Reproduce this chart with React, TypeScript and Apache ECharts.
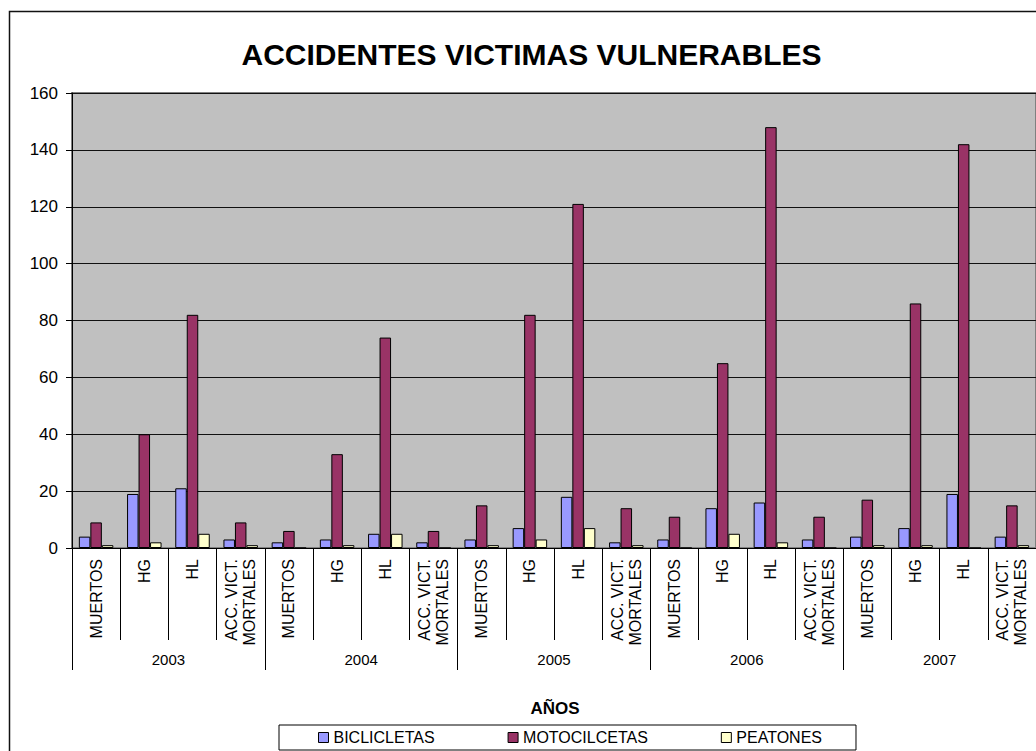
import React, { useEffect, useRef } from "react";
import * as echarts from "echarts";

const years = ["2003", "2004", "2005", "2006", "2007"];
const subCategories = ["MUERTOS", "HG", "HL", "ACC. VICT.\nMORTALES"];
const yTicks = { min: 0, max: 160, interval: 20 };

const bicicletas = [4, 19, 21, 3, 2, 3, 5, 2, 3, 7, 18, 2, 3, 14, 16, 3, 4, 7, 19, 4];
const motocicletas = [9, 40, 82, 9, 6, 33, 74, 6, 15, 82, 121, 14, 11, 65, 148, 11, 17, 86, 142, 15];
const peatones = [1, 2, 5, 1, 0, 1, 5, 0, 1, 3, 7, 1, 0, 5, 2, 0, 1, 1, 0, 1];

const seriesNames = ["BICLICLETAS", "MOTOCILCETAS", "PEATONES"];
const seriesColors = ["#9999FF", "#993366", "#FFFFCC"];

const FONT = "'Liberation Sans', Arial, Helvetica, sans-serif";

export default function App() {
  const ref = useRef<HTMLDivElement>(null);

  useEffect(() => {
    if (!ref.current) return;
    const chart = echarts.init(ref.current, undefined, { renderer: "svg" });
    const categories: string[] = [];
    years.forEach(() => subCategories.forEach((s) => categories.push(s)));
    const values = [bicicletas, motocicletas, peatones];

    chart.setOption({
      animation: false,
      backgroundColor: "#ffffff",
      textStyle: { fontFamily: FONT },
      grid: {
        left: 72,
        top: 93,
        width: 970,
        height: 455,
        show: true,
        backgroundColor: "#C0C0C0",
        borderColor: "#808080",
        borderWidth: 2,
      },
      graphic: [
        {
          type: "rect",
          shape: { x: 9.5, y: 11.5, width: 1200, height: 900 },
          style: { fill: "none", stroke: "#111", lineWidth: 1.5 },
          silent: true,
          z: -1,
        },
        {
          type: "text",
          x: 531.5,
          y: 54,
          style: {
            text: "ACCIDENTES VICTIMAS VULNERABLES",
            fontFamily: FONT,
            fontWeight: "bold",
            fontSize: 30,
            fill: "#000",
            textAlign: "center",
            textVerticalAlign: "middle",
          },
        },
        {
          type: "text",
          x: 555,
          y: 708,
          style: {
            text: "AÑOS",
            fontFamily: FONT,
            fontWeight: "bold",
            fontSize: 17,
            fill: "#000",
            textAlign: "center",
            textVerticalAlign: "middle",
          },
        },
      ],
      legend: {
        data: seriesNames,
        left: 279,
        top: 725,
        orient: "horizontal",
        padding: [4, 34, 4, 39],
        itemGap: 73,
        itemWidth: 10,
        itemHeight: 10,
        icon: "rect",
        borderColor: "#000",
        borderWidth: 1,
        backgroundColor: "#fff",
        itemStyle: { borderColor: "#000", borderWidth: 1 },
        textStyle: { fontFamily: FONT, fontSize: 16, color: "#000", lineHeight: 17 },
      },
      xAxis: [
        {
          type: "category",
          data: categories,
          axisLine: { show: true, lineStyle: { color: "#000", width: 1 } },
          axisTick: { show: true, interval: 0, length: 92, lineStyle: { color: "#000" } },
          axisLabel: {
            interval: 0,
            rotate: 90,
            margin: 11,
            fontFamily: FONT,
            fontSize: 16,
            lineHeight: 18,
            color: "#000",
          },
          splitLine: { show: false },
        },
        {
          type: "category",
          data: years,
          position: "bottom",
          axisLine: { show: false },
          axisTick: { show: true, interval: 0, length: 122, lineStyle: { color: "#000" } },
          axisLabel: {
            interval: 0,
            margin: 104,
            fontFamily: FONT,
            fontSize: 15,
            color: "#000",
          },
          splitLine: { show: false },
        },
      ],
      yAxis: {
        type: "value",
        min: yTicks.min,
        max: yTicks.max,
        interval: yTicks.interval,
        axisLine: { show: true, lineStyle: { color: "#000" } },
        axisTick: { show: true, length: 6, lineStyle: { color: "#000" } },
        axisLabel: { margin: 14, fontFamily: FONT, fontSize: 17, color: "#000" },
        splitLine: { show: true, lineStyle: { color: "#111", width: 1 } },
      },
      series: seriesNames.map((name, i) => ({
        name,
        type: "bar",
        xAxisIndex: 0,
        data: values[i],
        barWidth: 11.5,
        barGap: "0%",
        itemStyle: { color: seriesColors[i], borderColor: "#000", borderWidth: 1 },
      })),
    });

    return () => chart.dispose();
  }, []);

  return (
    <div
      ref={ref}
      style={{ position: "absolute", left: 0, top: 0, width: 1036, height: 751 }}
    />
  );
}
